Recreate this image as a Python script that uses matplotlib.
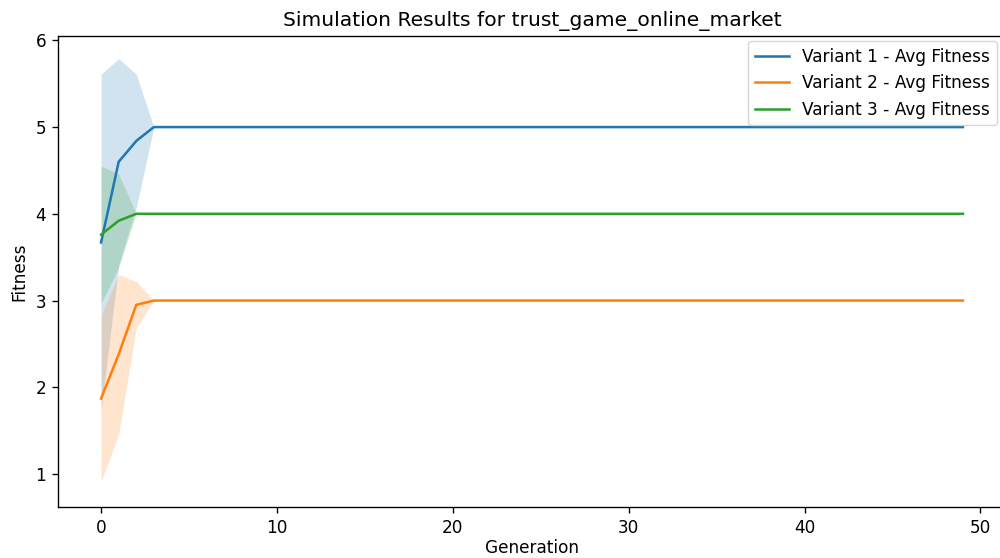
import matplotlib
matplotlib.use("Agg")
import matplotlib.pyplot as plt
import numpy as np

generations = list(range(50))

v1_mean_early = [3.67, 4.60, 4.84, 5.00]
v1_std_early = [1.94, 1.19, 0.77, 0.00]
v2_mean_early = [1.87, 2.38, 2.95, 3.00]
v2_std_early = [0.96, 0.92, 0.27, 0.00]
v3_mean_early = [3.76, 3.92, 4.00, 4.00]
v3_std_early = [0.79, 0.54, 0.00, 0.00]

v1_plateau = 5.0
v2_plateau = 3.0
v3_plateau = 4.0

n_rest = len(generations) - len(v1_mean_early)
v1_mean = v1_mean_early + [v1_plateau] * n_rest
v1_std = v1_std_early + [0.0] * n_rest
v2_mean = v2_mean_early + [v2_plateau] * n_rest
v2_std = v2_std_early + [0.0] * n_rest
v3_mean = v3_mean_early + [v3_plateau] * n_rest
v3_std = v3_std_early + [0.0] * n_rest

labels = ["Variant 1 - Avg Fitness", "Variant 2 - Avg Fitness", "Variant 3 - Avg Fitness"]
colors = ["#1f77b4", "#ff7f0e", "#2ca02c"]

S = 1.216
plt.rcParams.update({
    "font.size": 10 * S,
    "lines.linewidth": 1.5 * S,
    "axes.linewidth": 0.8 * S,
    "xtick.major.size": 3.5 * S, "ytick.major.size": 3.5 * S,
    "xtick.major.width": 0.8 * S, "ytick.major.width": 0.8 * S,
    "xtick.major.pad": 3.5 * S, "ytick.major.pad": 3.5 * S,
    "axes.titlepad": 6 * S, "axes.labelpad": 4 * S,
})

fig = plt.figure(figsize=(10, 5.58), dpi=100)
ax = fig.add_axes([0.058, (558 - 507) / 558, 0.948, 471 / 558])

x = np.array(generations)
for mean, std, lab, c in zip([v1_mean, v2_mean, v3_mean], [v1_std, v2_std, v3_std], labels, colors):
    m = np.array(mean); s = np.array(std)
    ax.plot(x, m, color=c, label=lab)
    ax.fill_between(x, m - s, m + s, color=c, alpha=0.2, linewidth=0)

ax.set_xlim(-2.45, 51.45)
ax.set_ylim(0.62, 6.05)
ax.set_xticks([0, 10, 20, 30, 40, 50])
ax.set_yticks([1, 2, 3, 4, 5, 6])
ax.set_title("Simulation Results for trust_game_online_market", fontsize=12 * S)
ax.set_xlabel("Generation", labelpad=1.5)
ax.set_ylabel("Fitness")
ax.legend(loc="upper right", bbox_to_anchor=(0.997, (558 - 41) / 558),
          bbox_transform=fig.transFigure, borderaxespad=0)
fig.savefig("out.png", dpi=100)
